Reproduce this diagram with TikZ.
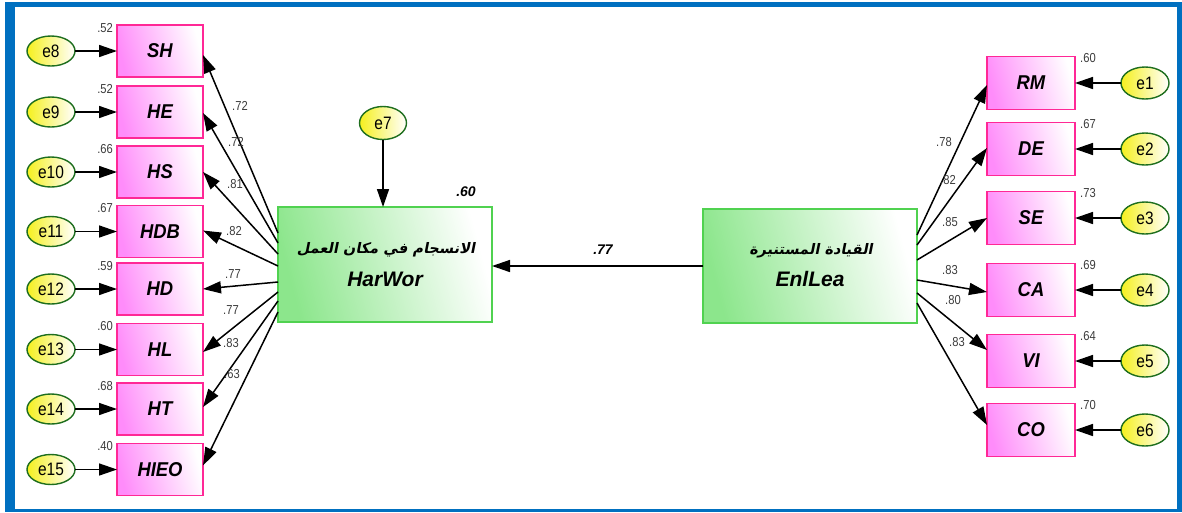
\documentclass[tikz,border=0pt]{standalone}
\usepackage{fontspec}
\setmainfont{Liberation Sans}
\newfontfamily\lbl[FakeStretch=0.86]{Liberation Sans}
\newfontfamily\boxfont[FakeStretch=0.92]{Liberation Sans}
\newfontfamily\arabicfont[Script=Arabic,FakeSlant=0.2]{DejaVu Sans}
\TeXXeTstate=1
\usetikzlibrary{arrows.meta,calc,shapes.geometric}
\definecolor{frameblue}{RGB}{0,112,192}
\definecolor{pinkborder}{RGB}{255,40,150}
\definecolor{pinkfill}{RGB}{255,140,250}
\definecolor{greenborder}{RGB}{80,210,80}
\definecolor{greenfill}{RGB}{140,230,140}
\definecolor{ellborder}{RGB}{30,110,30}
\definecolor{ellfill}{RGB}{245,240,30}
\definecolor{numgray}{RGB}{60,60,60}
\tikzset{
  obsbox/.style={draw=pinkborder, line width=1.4pt, left color=pinkfill, middle color=pinkfill!75!white, right color=white, shading angle=105,
    minimum width=86pt, minimum height=52pt, inner sep=0pt, outer sep=0pt,
    font=\boxfont\fontsize{20}{22}\selectfont\bfseries\itshape},
  latbox/.style={draw=greenborder, line width=1.4pt, left color=greenfill, right color=white, shading angle=105,
    minimum width=214pt, minimum height=115pt, inner sep=0pt, outer sep=0pt},
  err/.style={ellipse, draw=ellborder, line width=1.4pt, left color=ellfill, right color=white,
    minimum width=48pt, minimum height=31pt, inner sep=0pt, outer sep=0pt,
    font=\lbl\fontsize{18}{20}\selectfont},
  arr/.style={-{Triangle[length=18pt,width=12pt]}, line width=1.5pt, black},
  num/.style={font=\lbl\fontsize{13}{15}\selectfont, text=numgray, inner sep=0pt},
  bignum/.style={font=\fontsize{14}{16}\selectfont\bfseries\itshape, inner sep=0pt},
  arab/.style={font=\arabicfont\fontsize{14.5}{16}\selectfont\bfseries, inner sep=0pt},
  latin/.style={font=\fontsize{21}{23}\selectfont\bfseries\itshape, inner sep=0pt},
}
\begin{document}
\begin{tikzpicture}[x=1pt,y=-1pt]
\useasboundingbox (0,0) rectangle (1182,512);
\fill[frameblue] (5,2) rectangle (1182,512);
\fill[white] (15,7) rectangle (1177,509);

% latent variables
\node[latbox] (HarWor) at (385,264.5) {};
\node[arab] (HarWorAr) at (386,250) {\beginR الانسجام في مكان العمل\endR};
\node[latin] (HarWorLa) at (385,279) {HarWor};
\node[latbox, minimum height=114pt] (EnlLea) at (810,266) {};
\node[arab] (EnlLeaAr) at (811,251) {\beginR القيادة المستنيرة\endR};
\node[latin] (EnlLeaLa) at (810,279) {EnlLea};

\node[err, minimum width=47pt, minimum height=33pt] (e7) at (383,123) {e7};
\draw[arr] (e7) -- (e7 |- HarWor.north);
\node[bignum] (r2harwor) at (466,192) {.60};

\draw[arr] (EnlLea.west) -- (HarWor.east |- EnlLea.west);
\node[bignum] (b77) at (603,250) {.77};

% left indicators
\foreach \name/\yy/\e/\rr/\src/\tgt/\lx/\ly/\lv in {
  SH/51/e8/.52/-31.5/4/240/106/.72,
  HE/112/e9/.52/-21.5/1/236/142/.72,
  HS/172/e10/.66/-10.5/0/235/184/.81,
  HDB/231.5/e11/.67/1.5/-1/234/231/.82,
  HD/289/e12/.59/17.5/0/233/274/.77,
  HL/349.5/e13/.60/27.5/2.5/231/310/.77,
  HT/409/e14/.68/36.5/-2/231/343/.83,
  HIEO/469.5/e15/.40/47.5/-4/232/374/.63}{
  \node[obsbox] (\name) at (160,\yy) {\name};
  \node[err, minimum height=30pt] (\e) at (51,\yy) {\e};
  \draw[arr] (\e) -- (\name);
  \node[num, anchor=base east] (r2\name) at ($(\name.north west)+(-4,7)$) {\rr};
  \draw[arr] ($(HarWor.west)+(0,\src)$) -- ($(\name.east)+(0,\tgt)$);
  \node[num] (l\name) at (\lx,\ly) {\lv};
}

% right indicators
\foreach \name/\yy/\e/\rr/\src/\tgt/\lx/\ly/\lv in {
  RM/83/e1/.60/-31/2/944/142/.78,
  DE/149/e2/.67/-21/-1/948/180/.82,
  SE/218/e3/.73/-6/0/950/222/.85,
  CA/290/e4/.69/14/2/950/270/.83,
  VI/361/e5/.64/27/-11/953/300/.80,
  CO/430/e6/.70/37/-5/957/342/.83}{
  \node[obsbox, minimum width=88pt, minimum height=53pt] (\name) at (1031,\yy) {\name};
  \node[err, minimum height=32pt] (\e) at (1145,\yy) {\e};
  \draw[arr] (\e) -- (\name);
  \node[num, anchor=base west] (r2\name) at ($(\name.north east)+(5,6)$) {\rr};
  \draw[arr] ($(EnlLea.east)+(0,\src)$) -- ($(\name.west)+(0,\tgt)$);
  \node[num] (l\name) at (\lx,\ly) {\lv};
}
\end{tikzpicture}
\end{document}
